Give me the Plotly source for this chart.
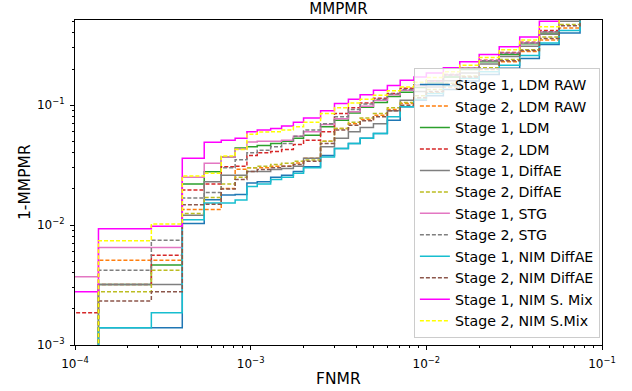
import plotly.graph_objects as go

# FNMR grid (step positions); value at each x holds until the next x
fnmr = [5e-5, 1.36e-4, 2.72e-4, 4.08e-4, 5.44e-4, 6.8e-4, 8.16e-4, 9.52e-4,
        1.09e-3, 1.3e-3, 1.5e-3, 1.75e-3, 2e-3, 2.5e-3, 3e-3, 3.6e-3, 4.2e-3,
        5e-3, 6e-3, 7.1e-3, 8.5e-3, 1e-2, 1.25e-2, 1.55e-2, 2e-2, 2.6e-2,
        3.4e-2, 4.4e-2, 5.7e-2, 7.5e-2, 1e-1]

s1_ldm_raw = [1e-5, 1.39e-3, 1.39e-3, 0.0103, 0.0163, 0.0178, 0.018, 0.0224,
              0.023, 0.025, 0.026, 0.028, 0.0306, 0.038, 0.0436, 0.048, 0.053,
              0.058, 0.075, 0.097, 0.11, 0.12, 0.135, 0.159, 0.18, 0.203,
              0.245, 0.32, 0.40, 0.53, 1.0]
s2_ldm_raw = [1e-5, 5.1e-3, 5.1e-3, 0.0135, 0.0135, 0.0202, 0.0292, 0.030,
              0.030, 0.031, 0.031, 0.033, 0.036, 0.05, 0.064, 0.07, 0.076,
              0.0825, 0.092, 0.103, 0.115, 0.127, 0.142, 0.172, 0.198, 0.23,
              0.28, 0.35, 0.44, 0.57, 1.0]
s1_ldm = [1e-5, 3.2e-3, 4.64e-3, 0.022, 0.0278, 0.037, 0.044, 0.045,
          0.046, 0.048, 0.050, 0.053, 0.056, 0.066, 0.075, 0.086, 0.096,
          0.105, 0.118, 0.128, 0.14, 0.153, 0.172, 0.198, 0.23, 0.265,
          0.325, 0.40, 0.52, 0.68, 1.0]
s2_ldm = [1.86e-3, 3.2e-3, 5.6e-3, 0.0196, 0.022, 0.0306, 0.031, 0.038,
          0.040, 0.041, 0.0427, 0.047, 0.051, 0.060, 0.085, 0.095, 0.104,
          0.114, 0.125, 0.138, 0.148, 0.16, 0.18, 0.203, 0.237, 0.275,
          0.335, 0.42, 0.54, 0.7, 1.0]
s1_diffae = [1e-5, 3.2e-3, 3.2e-3, 0.0121, 0.023, 0.026, 0.026, 0.028,
             0.028, 0.029, 0.0296, 0.031, 0.036, 0.045, 0.053, 0.060, 0.065,
             0.070, 0.09, 0.11, 0.13, 0.142, 0.16, 0.185, 0.22, 0.255,
             0.31, 0.39, 0.5, 0.66, 1.0]
s2_diffae = [1e-5, 2.78e-3, 4.2e-3, 0.0125, 0.017, 0.022, 0.025, 0.030,
             0.031, 0.032, 0.0327, 0.034, 0.0348, 0.05, 0.064, 0.072, 0.078,
             0.085, 0.095, 0.105, 0.12, 0.135, 0.152, 0.175, 0.205, 0.24,
             0.29, 0.37, 0.47, 0.62, 1.0]
s1_stg = [3.7e-3, 6.5e-3, 6.5e-3, 0.025, 0.0327, 0.037, 0.043, 0.0494,
          0.050, 0.050, 0.051, 0.055, 0.060, 0.069, 0.077, 0.088, 0.098,
          0.11, 0.122, 0.133, 0.145, 0.158, 0.178, 0.203, 0.235, 0.271,
          0.33, 0.41, 0.53, 0.7, 1.0]
s2_stg = [1e-5, 4.2e-3, 7.46e-3, 0.0168, 0.0187, 0.030, 0.035, 0.040,
          0.042, 0.045, 0.048, 0.055, 0.062, 0.070, 0.080, 0.092, 0.102,
          0.112, 0.124, 0.135, 0.147, 0.16, 0.178, 0.203, 0.235, 0.271,
          0.33, 0.41, 0.53, 0.7, 1.0]
s1_nim_diffae = [1e-5, 1.39e-3, 1.86e-3, 0.0111, 0.0153, 0.0153, 0.0162, 0.021,
                 0.022, 0.024, 0.025, 0.027, 0.030, 0.037, 0.0436, 0.048, 0.053,
                 0.058, 0.08, 0.097, 0.112, 0.125, 0.145, 0.168, 0.19, 0.215,
                 0.26, 0.33, 0.42, 0.55, 1.0]
s2_nim_diffae = [1e-5, 2.33e-3, 2.78e-3, 0.0148, 0.0149, 0.020, 0.024, 0.028,
                 0.029, 0.030, 0.031, 0.032, 0.034, 0.048, 0.062, 0.068, 0.074,
                 0.08, 0.09, 0.10, 0.115, 0.13, 0.148, 0.172, 0.2, 0.235,
                 0.285, 0.36, 0.46, 0.6, 1.0]
s1_nim_smix = [2.78e-3, 9.3e-3, 9.8e-3, 0.036, 0.049, 0.051, 0.053, 0.060,
               0.062, 0.064, 0.067, 0.072, 0.078, 0.090, 0.103, 0.112, 0.122,
               0.133, 0.146, 0.161, 0.172, 0.185, 0.205, 0.23, 0.265, 0.307,
               0.37, 0.50, 0.64, 0.8, 1.0]
s2_nim_smix = [1e-5, 7.4e-3, 0.0102, 0.0256, 0.027, 0.0376, 0.0427, 0.0573,
               0.0597, 0.060, 0.062, 0.066, 0.072, 0.085, 0.095, 0.104, 0.112,
               0.121, 0.132, 0.142, 0.155, 0.170, 0.19, 0.215, 0.25, 0.289,
               0.35, 0.45, 0.58, 0.75, 1.0]

names = ["Stage 1, LDM RAW", "Stage 2, LDM RAW", "Stage 1, LDM", "Stage 2, LDM",
         "Stage 1, DiffAE", "Stage 2, DiffAE", "Stage 1, STG", "Stage 2, STG",
         "Stage 1, NIM DiffAE", "Stage 2, NIM DiffAE", "Stage 1, NIM S. Mix",
         "Stage 2, NIM S.Mix"]
series = [s1_ldm_raw, s2_ldm_raw, s1_ldm, s2_ldm, s1_diffae, s2_diffae,
          s1_stg, s2_stg, s1_nim_diffae, s2_nim_diffae, s1_nim_smix, s2_nim_smix]
colors = ["#1f77b4", "#ff7f0e", "#2ca02c", "#d62728", "#7f7f7f", "#bcbd22",
          "#e377c2", "#7f7f7f", "#17becf", "#8c564b", "#ff00ff", "#ffff00"]
dashes = ["solid", "4px,2px"] * 6

fig = go.Figure()
for n, s, c, d in zip(names, series, colors, dashes):
    fig.add_trace(go.Scatter(x=fnmr, y=s, name=n, mode="lines",
                             line=dict(color=c, width=1.5, dash=d, shape="hv")))

xt = [1e-4, 1e-3, 1e-2, 1e-1]
xt_text = ["10<sup>−4</sup>", "10<sup>−3</sup>", "10<sup>−2</sup>", "10<sup>−1</sup>"]
yt = [1e-3, 1e-2, 1e-1]
yt_text = ["10<sup>−3</sup>", "10<sup>−2</sup>", "10<sup>−1</sup>"]
x_minor = [m * 10.0 ** e for e in (-4, -3, -2) for m in range(2, 10)]
y_minor = [m * 10.0 ** e for e in (-3, -2, -1) for m in range(2, 10)]

axis_common = dict(type="log", showgrid=False, zeroline=False, showline=True,
                   linecolor="black", linewidth=1, mirror=True, ticks="outside",
                   ticklen=4, tickwidth=1, tickcolor="black",
                   tickfont=dict(family="DejaVu Sans", size=12, color="black"))

fig.update_layout(
    width=632, height=391,
    margin=dict(l=75, r=30, t=20, b=46),
    paper_bgcolor="white", plot_bgcolor="white",
    font=dict(family="DejaVu Sans", color="black"),
    title=dict(text="MMPMR", x=0.5, xref="paper", y=1 - 9 / 391, yref="container",
               yanchor="middle", font=dict(family="DejaVu Sans", size=15, color="black")),
    xaxis=dict(range=[-4, -1], tickvals=xt, ticktext=xt_text, ticklabelstandoff=4,
               minor=dict(tickmode="array", tickvals=x_minor, ticks="outside",
                          ticklen=2, tickwidth=0.8, tickcolor="black", showgrid=False),
               **axis_common),
    yaxis=dict(range=[-3, -0.29], tickvals=yt, ticktext=yt_text, ticklabelstandoff=3,
               minor=dict(tickmode="array", tickvals=y_minor, ticks="outside",
                          ticklen=2, tickwidth=0.8, tickcolor="black", showgrid=False),
               **axis_common),
    legend=dict(x=0.996, y=0.022, xanchor="right", yanchor="bottom",
                bgcolor="rgba(255,255,255,0.8)", bordercolor="#cccccc", borderwidth=1,
                font=dict(family="DejaVu Sans", size=14.2, color="black"),
                tracegroupgap=0, itemwidth=30),
    annotations=[
        dict(text="FNMR", xref="paper", yref="paper", x=0.5, y=(345 - 379) / 325,
             xanchor="center", yanchor="middle", showarrow=False,
             font=dict(family="DejaVu Sans", size=15.5, color="black")),
        dict(text="1-MMPMR", xref="paper", yref="paper", x=(24.5 - 75) / 527, y=0.5,
             xanchor="center", yanchor="middle", textangle=-90, showarrow=False,
             font=dict(family="DejaVu Sans", size=15.5, color="black")),
    ],
)

fig.write_html("out.html", config={"displayModeBar": False},
               post_script="document.body.style.margin='0px';")
